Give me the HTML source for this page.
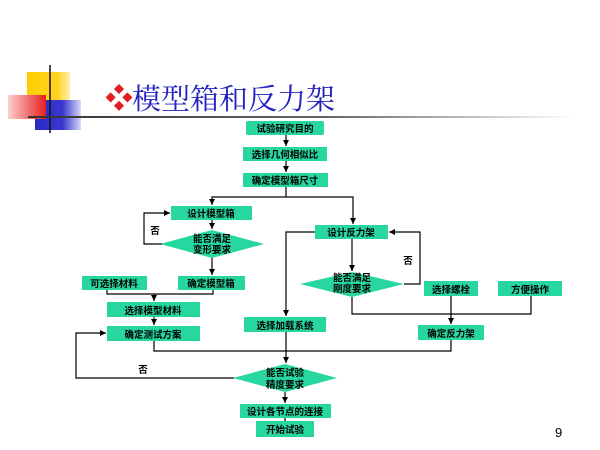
<!DOCTYPE html>
<html><head><meta charset="utf-8"><style>
html,body{margin:0;padding:0;background:#fff;}
svg{display:block;}
text{font-family:"Liberation Sans","Noto Sans CJK SC",sans-serif;}
</style></head><body>
<svg width="600" height="450" viewBox="0 0 600 450" xmlns="http://www.w3.org/2000/svg">
<defs>
<linearGradient id="ln" x1="0" x2="1" y1="0" y2="0">
<stop offset="0" stop-color="#333"/><stop offset="0.55" stop-color="#666"/><stop offset="1" stop-color="#fff"/>
</linearGradient>
<linearGradient id="rd" x1="0" x2="1"><stop offset="0" stop-color="#fbd0d0"/><stop offset="1" stop-color="#e82020"/></linearGradient>
<linearGradient id="bl" x1="0" x2="1"><stop offset="0" stop-color="#2828c8"/><stop offset="0.6" stop-color="#3838d0"/><stop offset="1" stop-color="#d8d8f8"/></linearGradient>
<linearGradient id="yl" x1="0" x2="1"><stop offset="0" stop-color="#ffcc00"/><stop offset="0.7" stop-color="#ffd420"/><stop offset="1" stop-color="#fff0b0"/></linearGradient>
<marker id="a" markerWidth="8" markerHeight="8" refX="6" refY="3" orient="auto" markerUnits="userSpaceOnUse"><path d="M0,0 L6,3 L0,6 z" fill="#000"/></marker>
</defs>
<rect x="27" y="72" width="43" height="30" fill="url(#yl)"/>
<rect x="35" y="100" width="46" height="30" fill="url(#bl)"/>
<rect x="8" y="95" width="38" height="24" fill="url(#rd)"/>
<line x1="50" y1="65" x2="50" y2="133" stroke="#111" stroke-width="1.5"/>
<rect x="28" y="116" width="545" height="2" fill="url(#ln)"/>
<text x="105" y="108" font-size="28" fill="#e02020">❖</text>
<text x="132" y="109" font-size="29" fill="#2222c0" style="font-family:'Noto Serif CJK SC','Liberation Serif',serif">模型箱和反力架</text>

<g fill="#28d6a0">
<rect x="246" y="121" width="78" height="14" rx="2"/>
<rect x="243" y="147" width="84" height="14"/>
<rect x="243" y="173" width="85" height="14"/>
<rect x="171" y="206" width="81" height="14"/>
<polygon points="160,244 212,230 264,244 212,258"/>
<rect x="178" y="276" width="67" height="14"/>
<rect x="82" y="276" width="65" height="14"/>
<rect x="315" y="225" width="73" height="14"/>
<polygon points="300,284 352,272 404,284 352,297"/>
<rect x="424" y="281" width="54" height="15"/>
<rect x="498" y="281" width="64" height="15"/>
<rect x="418" y="325" width="66" height="15"/>
<rect x="244" y="317" width="82" height="15"/>
<rect x="107" y="302" width="93" height="15"/>
<rect x="107" y="326" width="93" height="15"/>
<polygon points="233,378 285,364 337,378 285,392"/>
<rect x="240" y="404" width="91" height="14"/>
<rect x="256" y="421" width="58" height="16"/>
</g>

<g fill="none" stroke="#000" stroke-width="1.2">
<line x1="286" y1="135" x2="286" y2="146" marker-end="url(#a)"/>
<line x1="286" y1="161" x2="286" y2="172" marker-end="url(#a)"/>
<polyline points="286,187 286,197 212,197 212,205" marker-end="url(#a)"/>
<polyline points="286,197 353,197 353,224" marker-end="url(#a)"/>
<line x1="212" y1="220" x2="212" y2="229" marker-end="url(#a)"/>
<polyline points="162,244 144,244 144,213 170,213" marker-end="url(#a)"/>
<line x1="212" y1="258" x2="212" y2="275" marker-end="url(#a)"/>
<line x1="352" y1="239" x2="352" y2="271" marker-end="url(#a)"/>
<polyline points="404,284 420,284 420,232 389,232" marker-end="url(#a)"/>
<polyline points="352,297 352,314 531,314 531,296"/>
<line x1="451" y1="296" x2="451" y2="324" marker-end="url(#a)"/>
<polyline points="315,232 286,232 286,316" marker-end="url(#a)"/>
<polyline points="107,290 107,294 213,294 213,290"/>
<line x1="154" y1="294" x2="154" y2="301" marker-end="url(#a)"/>
<line x1="154" y1="317" x2="154" y2="325" marker-end="url(#a)"/>
<polyline points="154,341 154,351 451,351 451,340"/>
<line x1="286" y1="332" x2="286" y2="363" marker-end="url(#a)"/>
<polyline points="234,378 76,378 76,333 106,333" marker-end="url(#a)"/>
<line x1="285" y1="392" x2="285" y2="403" marker-end="url(#a)"/>
<line x1="285" y1="418" x2="285" y2="421"/>
</g>

<g font-size="9.5" fill="#000" text-anchor="middle" font-weight="bold">
<text x="285" y="132">试验研究目的</text>
<text x="285" y="158">选择几何相似比</text>
<text x="285" y="184">确定模型箱尺寸</text>
<text x="211" y="217">设计模型箱</text>
<text x="212" y="242">能否满足</text>
<text x="212" y="253">变形要求</text>
<text x="211" y="287">确定模型箱</text>
<text x="114" y="287">可选择材料</text>
<text x="351" y="236">设计反力架</text>
<text x="352" y="281">能否满足</text>
<text x="352" y="292">刚度要求</text>
<text x="451" y="293">选择螺栓</text>
<text x="530" y="293">方便操作</text>
<text x="451" y="337">确定反力架</text>
<text x="285" y="329">选择加载系统</text>
<text x="153" y="314">选择模型材料</text>
<text x="153" y="338">确定测试方案</text>
<text x="285" y="376">能否试验</text>
<text x="285" y="388">精度要求</text>
<text x="285" y="415">设计各节点的连接</text>
<text x="285" y="433">开始试验</text>
<text x="155" y="234">否</text>
<text x="408" y="264">否</text>
<text x="143" y="373">否</text>
</g>
<text x="555" y="437" font-size="13" fill="#000">9</text>
</svg>
</body></html>
